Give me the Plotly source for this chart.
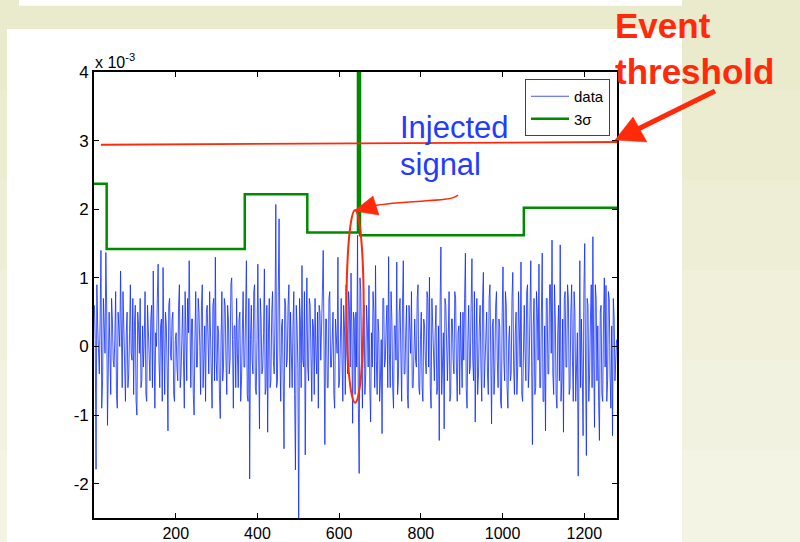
import plotly.graph_objects as go

# ---------------- data (values in units of 1e-3) ----------------
# samples read at x = 1, 5, 9, ... (peaks / notable spikes)
data_y_a = [
    0.6, -1.79, 0.3, -0.4, 1.40, -0.5, 0.2, 1.37, -1.15, 0.5,
    -0.7, 0.4, -0.3, 0.8, -0.9, 0.2, 1.1, -0.6, 0.3, -0.8,
    0.5, -0.4, 0.9, -0.2, -0.7, 0.6, -1.0, 0.3, 0.7, -0.5,
    -0.3, 0.8, -0.8, 0.2, -0.5, 0.6, 1.1, -0.9, 0.0, 1.2,
    -0.6, 0.4, 1.15, -0.7, 0.3, -1.23, 0.7, -0.2, 0.5, -0.8,
    0.2, -0.5, 0.9, -0.4, 0.6, -0.9, 0.1, 0.7, 1.25, -0.6,
    0.4, -1.0, 0.8, -0.3, 0.5, -0.7, 0.9, -0.2, -0.8, 0.6,
    -0.4, 0.3, -0.9, 0.7, 1.3, -0.5, 0.2, -1.05, 0.8, -0.3,
    0.6, -0.7, 0.4, -0.2, 1.0, -0.9, 0.3, 0.7, -0.6, 0.5,
    -0.5, 0.8, -0.3, 1.25, -0.8, -1.93, 0.6, -0.4, 0.9, -0.7,
    1.2, -1.2, 0.4, -0.3, 1.13, -0.6, -1.25, 0.7, -0.5, 0.8,
    -0.4, 2.07, -0.5, 1.86, -0.8, 0.4, -1.49, 0.6, -0.2, 0.9,
    0.5, -0.6, 0.8, -1.80, 0.3, -2.7, 0.4, 1.18, -0.3, -1.58,
    1.0, -0.5, 0.6, -0.8, 0.3, 0.7, -0.4, -0.9, 0.5, 0.2,
    1.4, -1.43, 0.4, -0.6, 0.8, -0.3, 0.5, -0.9, 0.2, 1.3,
    -0.5, 0.7, -0.8, 0.3, 0.9, -0.4, 0.6, 1.07, -1.12, 0.4,
    0.5, 1.62, -1.85, 0.8, -0.9, 0.6, -0.4, 0.3, 0.89, -1.1,
    -0.3, 0.5, 1.18, -0.7, 0.2, -0.5, -1.27, 0.7, -0.2, 0.6,
    1.31, -0.6, 0.4, -0.9, 0.3, 1.23, -0.5, 0.7, -0.8, 1.25,
    -0.4, 0.6, -0.9, 0.2, 0.8, -0.6, 0.4, -0.3, 0.9, -0.7,
    0.5, -0.8, 0.3, -0.4, 0.7, 1.01, -0.9, 0.2, -0.5, 0.6,
    -0.6, -1.37, 1.45, -0.3, -1.2, 0.6, -0.5, 0.8, -0.7, 0.4,
    -0.4, 0.7, -0.8, 0.3, 0.5, -0.6, -0.2, 1.36, -0.9, 0.6,
    -0.3, 1.28, -0.5, -1.1, 0.7, -0.4, 0.6, -0.8, 1.08, -0.2,
    0.5, -0.7, 0.9, -1.13, 0.4, -0.3, 0.8, -0.6, 0.3, -0.9,
    1.16, -0.5, 0.6, -0.9, 0.3, -0.4, 1.08, -0.7, 0.5, -0.3,
    0.4, 1.23, -0.8, 0.6, -0.5, 0.9, -0.3, 1.25, -1.43, 0.7,
    -0.6, 0.5, 1.2, -0.6, 1.36, -0.8, -1.23, 0.7, -0.4, 0.9,
    1.55, -0.7, 0.4, -0.9, 0.6, 1.48, -0.5, -1.25, 0.8, -0.3,
    0.7, -0.6, 0.9, -0.8, 0.5, -0.3, -1.89, 1.25, 0.4, -1.30,
    1.5, -1.59, 0.6, -0.4, 0.9, 1.6, -1.18, 0.7, 0.3, -1.37,
    0.6, -0.8, 1.0, 0.89, -0.5, 0.7, -0.9, -1.30, 0.43, -0.2,
]
# samples read at x = 3, 7, 11, ... (dense body of the noise)
data_y_b = [
    0.1, 0.9, -0.2, 0.4, -0.9, 0.7, -0.1, 0.6, -0.4, -0.1,
    0.7, -0.2, 0.1, -0.7, 0.5, 0.0, -0.4, 0.8, -0.3, 0.2,
    -0.6, 0.2, -0.1, 0.7, 0.3, -0.8, 0.5, -0.1, -0.6, 0.3,
    0.1, -0.7, 0.6, -0.2, 0.4, -0.6, 0.0, 0.2, 0.7, -0.2,
    0.3, -0.8, 0.1, 0.5, -0.3, 0.6, -0.1, 0.4, -0.7, 0.1,
    -0.3, 0.6, -0.6, 0.1, -0.2, 0.8, -0.5, 0.2, -0.1, 0.4,
    -0.7, 0.1, -0.3, 0.7, 0.0, 0.6, -0.6, 0.3, 0.5, -0.2,
    0.8, -0.1, 0.6, -0.5, -0.2, 0.3, -0.7, 0.1, -0.5, 0.7,
    -0.2, 0.6, -0.4, 0.9, 0.1, 0.3, -0.6, -0.1, 0.4, -0.8,
    0.2, -0.3, 0.5, -0.7, 0.7, 0.1, -0.2, 0.8, -0.6, 0.1,
    -0.1, 0.7, -0.4, 0.2, -0.7, 0.6, 0.2, -0.6, 0.5, -0.2,
    0.4, -0.6, 0.8, -0.1, 0.3, -0.5, 0.7, -0.3, 0.6, -0.6,
    -0.1, 0.3, -0.7, 0.6, -0.3, 0.7, -0.6, -0.2, 0.8, 0.1,
    -0.3, 0.7, -0.1, 0.4, -0.7, -0.1, 0.5, 0.6, -0.2, 0.8,
    -0.2, 0.4, -0.6, 0.7, -0.3, 0.1, -0.7, 0.4, -0.1, -0.6,
    0.3, -0.2, 0.6, -0.7, -0.1, 0.8, -0.3, 0.2, 0.5, -0.7,
    -0.3, -0.9, 1.0, -0.2, 0.4, -0.7, 0.6, -0.3, -0.6, 0.2,
    0.8, -0.6, -0.2, 0.4, -0.8, 0.1, 0.7, -0.3, 0.3, -0.6,
    -0.1, 0.8, -0.6, 0.3, -0.2, -0.7, 0.5, -0.1, 0.6, -0.4,
    0.2, -0.7, 0.6, -0.1, -0.6, 0.3, -0.2, 0.7, -0.6, 0.1,
    -0.6, 0.4, -0.2, 0.8, -0.3, -0.6, 0.7, -0.4, 0.2, -0.7,
    0.3, 0.6, -0.7, 0.2, 0.7, -0.3, 0.1, -0.8, 0.4, -0.2,
    0.8, -0.3, 0.2, -0.7, -0.1, 0.5, 0.7, -0.6, 0.1, -0.4,
    0.6, -0.2, 0.8, 0.1, -0.7, 0.3, -0.3, 0.7, -0.6, 0.2,
    -0.4, 0.7, -0.1, 0.3, -0.7, 0.6, -0.2, 0.4, -0.8, 0.5,
    -0.2, 0.8, -0.6, 0.1, -0.5, 0.7, -0.3, 0.2, -0.7, 0.8,
    -0.3, -0.7, 0.4, -0.1, 0.8, -0.6, 0.5, -0.2, 0.3, -0.7,
    0.8, -0.2, -0.6, 0.5, -0.8, 0.3, 0.7, -0.4, 0.9, -0.1,
    -0.4, 0.9, -0.7, 0.2, -0.5, -0.8, 0.4, 0.7, -0.3, 0.9,
    -0.7, 0.5, -0.2, 0.8, -0.8, 0.2, 0.9, -0.6, -0.4, 0.8,
    -0.3, 0.7, -0.8, 0.4, -0.6, -0.2, 0.9, -0.5, -0.8, 0.5,
    -0.7, 0.4, -0.3, -0.8, 0.8, -0.4, 0.3, 0.7, -0.5, 0.1,
]
data_x_a = list(range(1, 1281, 4))
data_x_b = list(range(3, 1281, 4))

# merge the two read series in x order
pairs = sorted(zip(data_x_a + data_x_b, data_y_a + data_y_b))
data_x = [p[0] for p in pairs]
data_y = [p[1] for p in pairs]

sigma_x = [0, 31, 31, 369, 369, 522, 522, 646, 646, 651, 651, 1052, 1052, 1280]
sigma_y = [2.37, 2.37, 1.42, 1.42, 2.22, 2.22, 1.66, 1.66, 9.0, 9.0, 1.62, 1.62, 2.02, 2.02]

threshold_x = [17, 1280]
threshold_y = [2.94, 2.98]

x_ticks = [200, 400, 600, 800, 1000, 1200]
y_ticks = [-2, -1, 0, 1, 2, 3, 4]
y_tick_text = ["-2", "-1", "0", "1", "2", "3", "4"]

# ---------------- layout helpers ----------------
W, H = 800, 542
L, R, T, B = 94, 617, 72, 518


def px(x):
    return (x - L) / (R - L)


def py(y):
    return (B - y) / (B - T)


FONT = "Liberation Sans, Arial, Helvetica, sans-serif"
RED = "#ff2a0a"
BLUE_TXT = "#1f3cff"

fig = go.Figure()
fig.add_trace(go.Scatter(x=data_x, y=data_y, mode="lines", name="data",
                         line=dict(color="#0d2bff", width=0.8)))
fig.add_trace(go.Scatter(x=sigma_x, y=sigma_y, mode="lines", name="3σ",
                         line=dict(color="#008a00", width=2.5)))
fig.add_trace(go.Scatter(x=threshold_x, y=threshold_y, mode="lines", showlegend=False,
                         line=dict(color=RED, width=1.8)))

# slide background: soft vertical gradient in bands
bg_bands = [(0, 90, "#eaeacc"), (90, 180, "#ececd1"), (180, 270, "#eeeed6"),
            (270, 360, "#f0f0db"), (360, 450, "#f2f2e0"), (450, 542, "#f4f4e5")]
shapes = [dict(type="rect", xref="paper", yref="paper", x0=px(0), x1=px(W), y0=py(y1), y1=py(y0),
               fillcolor=c, line=dict(width=0), layer="below") for y0, y1, c in bg_bands]

shapes += [
    # slide white areas
    dict(type="rect", xref="paper", yref="paper", x0=px(19), x1=px(682), y0=py(0), y1=py(5.7),
         fillcolor="white", line=dict(width=0), layer="below"),
    dict(type="rect", xref="paper", yref="paper", x0=px(7), x1=px(682), y0=py(29), y1=py(542),
         fillcolor="white", line=dict(width=0), layer="below"),
    # ellipse around injected signal
    dict(type="circle", xref="x", yref="y", x0=618, x1=660, y0=-0.82, y1=1.99,
         line=dict(color=RED, width=2)),
    # curved pointer from "Injected signal"
    dict(type="path", xref="paper", yref="paper",
         path=f"M {px(458)},{py(195)} C {px(450)},{py(203)} {px(410)},{py(199)} {px(372)},{py(206)}",
         line=dict(color=RED, width=1.5)),
    dict(type="path", xref="paper", yref="paper",
         path=f"M {px(354)},{py(211)} L {px(373)},{py(196)} L {px(379)},{py(215)} Z",
         fillcolor=RED, line=dict(color=RED, width=0.5)),
    # event threshold arrow
    dict(type="line", xref="paper", yref="paper", x0=px(715), y0=py(91), x1=px(636), y1=py(130),
         line=dict(color=RED, width=5)),
    dict(type="path", xref="paper", yref="paper",
         path=f"M {px(615)},{py(140)} L {px(633)},{py(117)} L {px(647)},{py(142)} Z",
         fillcolor=RED, line=dict(color=RED, width=0.5)),
]

annotations = [
    dict(text="Event", xref="paper", yref="paper", x=px(613), y=py(25), xanchor="left",
         yanchor="middle", showarrow=False, font=dict(family=FONT, size=35, color=RED, weight="bold")),
    dict(text="threshold", xref="paper", yref="paper", x=px(613), y=py(71), xanchor="left",
         yanchor="middle", showarrow=False, font=dict(family=FONT, size=35, color=RED, weight="bold")),
    dict(text="Injected", xref="paper", yref="paper", x=px(398), y=py(127), xanchor="left",
         yanchor="middle", showarrow=False, font=dict(family=FONT, size=31, color=BLUE_TXT)),
    dict(text="signal", xref="paper", yref="paper", x=px(398), y=py(164), xanchor="left",
         yanchor="middle", showarrow=False, font=dict(family=FONT, size=31, color=BLUE_TXT)),
    dict(text="x 10<sup>-3</sup>", xref="paper", yref="paper", x=px(93), y=py(61), xanchor="left",
         yanchor="middle", showarrow=False, font=dict(family=FONT, size=16, color="black")),
]

axis_common = dict(showline=True, linecolor="black", linewidth=1.6, mirror="ticks",
                   ticks="inside", ticklen=5, tickwidth=1.4, tickcolor="black",
                   showgrid=False, zeroline=False, automargin=False)

fig.update_layout(
    width=W, height=H,
    margin=dict(l=L, r=W - R, t=T, b=H - B, pad=0),
    paper_bgcolor="#ecebcf",
    plot_bgcolor="white",
    shapes=shapes,
    annotations=annotations,
    xaxis=dict(range=[0, 1280], tickvals=x_ticks,
               tickfont=dict(family=FONT, size=16, color="black"), **axis_common),
    yaxis=dict(range=[-2.5, 4], tickvals=y_ticks, ticktext=y_tick_text,
               tickfont=dict(family=FONT, size=17, color="black"), **axis_common),
    legend=dict(x=px(610), xanchor="right", y=py(79), yanchor="top",
                bgcolor="white", bordercolor="#444", borderwidth=1, itemwidth=38,
                font=dict(family=FONT, size=15, color="black"), tracegroupgap=0),
    showlegend=True,
)

fig.write_html("out.html", config={"displayModeBar": False},
               post_script="document.body.style.margin='0px';document.body.style.overflow='hidden';")
